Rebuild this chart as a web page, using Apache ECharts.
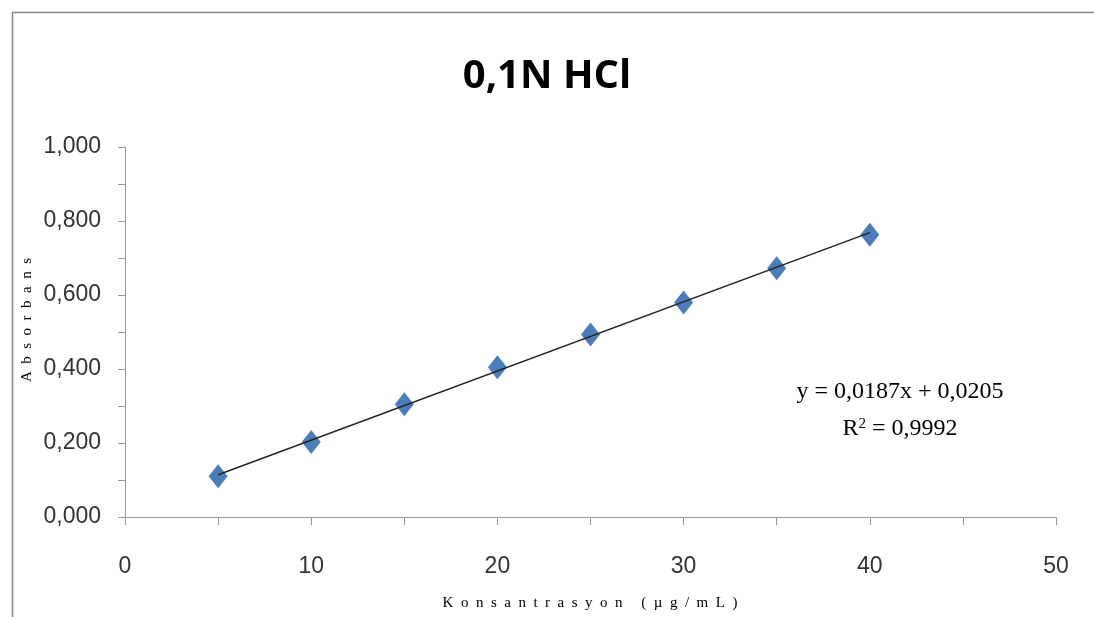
<!DOCTYPE html>
<html>
<head>
<meta charset="utf-8">
<script src="https://cdn.jsdelivr.net/npm/echarts@6/dist/echarts.min.js"></script>
<style>
  html, body { margin: 0; padding: 0; background: #fff; }
  #chart { width: 1094px; height: 617px; }
</style>
</head>
<body>
<div id="chart"></div>
<script>
// concentrations (µg/mL) and absorbance readings
const konsantrasyon = [5, 10, 15, 20, 25, 30, 35, 40];
const absorbans = [0.110, 0.203, 0.305, 0.405, 0.493, 0.580, 0.672, 0.763];
// trend line from Excel fit
const egim = 0.0187;
const kesisim = 0.0205;
const trendX = [5, 40];

const chart = echarts.init(document.getElementById('chart'));

const trendData = trendX.map(x => [x, egim * x + kesisim]);

// spread letters out like the original axis titles
const aralikli = s => s.split('').join('\u2002');

const option = {
  animation: false,
  title: {
    text: '0,1N HCl',
    left: 'center',
    top: 52,
    textStyle: {
      fontFamily: 'Open Sans, sans-serif',
      fontSize: 40,
      fontWeight: 'bold',
      color: '#000'
    }
  },
  grid: { left: 125, right: 38, top: 147, bottom: 100 },
  xAxis: {
    type: 'value',
    min: 0,
    max: 50,
    interval: 5,
    axisLine: { show: true, lineStyle: { color: '#999' } },
    axisTick: { show: true, length: 8, lineStyle: { color: '#999' } },
    splitLine: { show: false },
    axisLabel: {
      margin: 38,
      fontFamily: 'Liberation Sans, sans-serif',
      fontSize: 23,
      color: '#333',
      formatter: v => (v % 10 === 0 ? String(v) : '')
    }
  },
  yAxis: {
    type: 'value',
    min: 0,
    max: 1,
    interval: 0.2,
    axisLine: { show: true, lineStyle: { color: '#999' } },
    axisTick: { show: true, length: 7, lineStyle: { color: '#999' } },
    minorTick: { show: true, splitNumber: 2, length: 7, lineStyle: { color: '#999' } },
    splitLine: { show: false },
    axisLabel: {
      margin: 24,
      fontFamily: 'Liberation Sans, sans-serif',
      fontSize: 23,
      color: '#333',
      formatter: v => v.toFixed(3).replace('.', ',')
    }
  },
  series: [
    {
      type: 'line',
      data: trendData,
      showSymbol: false,
      lineStyle: { color: '#222', width: 1.5 },
      z: 3
    },
    {
      type: 'scatter',
      data: konsantrasyon.map((x, i) => [x, absorbans[i]]),
      symbol: 'diamond',
      symbolSize: [19, 24],
      itemStyle: { color: '#4a7ebb', opacity: 1 },
      z: 2
    }
  ],
  graphic: [
    {
      type: 'rect',
      shape: { x: 12.5, y: 12.5, width: 1200, height: 700 },
      style: { fill: 'none', stroke: '#888', lineWidth: 1.5 },
      silent: true
    },
    {
      type: 'text',
      x: 27, y: 320,
      rotation: Math.PI / 2,
      style: {
        text: aralikli('Absorbans'),
        font: '15px "Liberation Serif", serif',
        fill: '#000',
        align: 'center',
        verticalAlign: 'middle'
      }
    },
    {
      type: 'text',
      x: 590, y: 603,
      style: {
        text: aralikli('Konsantrasyon (µg/mL)'),
        font: '15px "Liberation Serif", serif',
        fill: '#000',
        align: 'center',
        verticalAlign: 'middle'
      }
    },
    {
      type: 'text',
      x: 900, y: 392,
      style: {
        text: 'y = 0,0187x + 0,0205',
        font: '24px "Liberation Serif", serif',
        fill: '#000',
        align: 'center',
        verticalAlign: 'middle'
      }
    },
    {
      type: 'text',
      x: 900, y: 429,
      style: {
        rich: {
          n: { font: '24px "Liberation Serif", serif', fill: '#000' },
          s: { font: '15px "Liberation Serif", serif', fill: '#000', verticalAlign: 'top', padding: [0, 0, 10, 0] }
        },
        text: '{n|R}{s|2}{n| = 0,9992}',
        align: 'center',
        verticalAlign: 'middle'
      }
    }
  ]
};

chart.setOption(option);
</script>
</body>
</html>
